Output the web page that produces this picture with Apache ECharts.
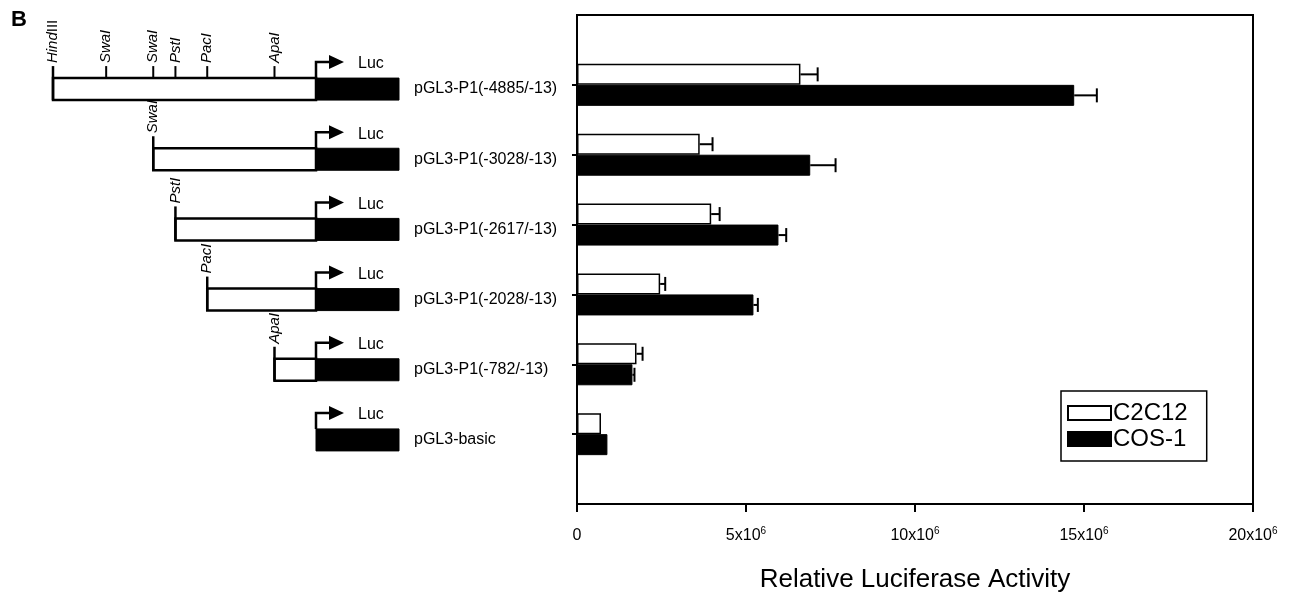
<!DOCTYPE html>
<html>
<head>
<meta charset="utf-8">
<script src="https://cdn.jsdelivr.net/npm/echarts@6/dist/echarts.min.js"></script>
<style>
  html, body {margin: 0; padding: 0; background: #fff;}
  #chart {width: 1294px; height: 596px;}
</style>
</head>
<body>
<div id="chart"></div>
<script>
// constructs (top to bottom)
const constructs = ['pGL3-P1(-4885/-13)', 'pGL3-P1(-3028/-13)', 'pGL3-P1(-2617/-13)', 'pGL3-P1(-2028/-13)', 'pGL3-P1(-782/-13)', 'pGL3-basic']
// 5' end of each promoter fragment (bp), and the site name at that end
const startBp = [-4885, -3028, -2617, -2028, -782, -13]
const startSite = ['HindIII', 'SwaI', 'PstI', 'PacI', 'ApaI', '']
// internal restriction sites drawn on the longest construct
const siteNames = ['SwaI', 'SwaI', 'PstI', 'PacI', 'ApaI']
const sitePos = [-3900, -3028, -2617, -2028, -782]
const promoterEnd = -13

// relative luciferase activity (x10^6) and error (x10^6)
const c2c12 = [6.61, 3.63, 3.97, 2.46, 1.76, 0.71]
const c2c12Err = [0.51, 0.38, 0.25, 0.15, 0.18, 0]
const cos1 = [14.71, 6.90, 5.96, 5.22, 1.64, 0.90]
const cos1Err = [0.67, 0.75, 0.23, 0.13, 0.06, 0]

const xTicks = [0, 5, 10, 15, 20]

const FONT = '"Liberation Sans", Arial, sans-serif'
const M = 1e6

const chart = echarts.init(document.getElementById('chart'))

// padded category axis: empty slot above and below the six rows
const yCats = [''].concat(constructs, [''])
const pad = arr => [null].concat(arr.map(v => v * M), [null])
const errData = (vals, errs) => vals.map((v, i) => [v * M, errs[i] * M, i + 1])

function errorBar(offset) {
    return function (params, api) {
        const v = api.value(0), e = api.value(1), c = api.value(2)
        if (!e) return
        const p0 = api.coord([v, c])
        const p1 = api.coord([v + e, c])
        const y = p0[1] + offset
        const st = {stroke: '#000', lineWidth: 2}
        return {
            type: 'group',
            children: [
                {type: 'line', shape: {x1: p0[0], y1: y, x2: p1[0], y2: y}, style: st},
                {type: 'line', shape: {x1: p1[0], y1: y - 7, x2: p1[0], y2: y + 7}, style: st}
            ]
        }
    }
}

// promoter/luciferase construct diagram
function renderConstruct(params, api) {
    const start = api.value(0), row = api.value(1)
    const ps = api.coord([start, row])
    const pe = api.coord([promoterEnd, row])
    const c = ps[1]
    const top = c - 11, bot = c + 11
    const xs = ps[0], xe = pe[0]
    const lw = 2.5
    const children = []
    if (start < promoterEnd) {
        children.push({type: 'rect', shape: {x: xs, y: top, width: xe - xs, height: bot - top},
            style: {fill: '#fff', stroke: '#000', lineWidth: lw}})
        children.push({type: 'line', shape: {x1: xs, y1: bot, x2: xs, y2: top - 12},
            style: {stroke: '#000', lineWidth: lw}})
        children.push(siteLabel(xs, top - 15, startSite[row]))
    }
    if (row === 0) {
        sitePos.forEach((p, k) => {
            const x = api.coord([p, row])[0]
            children.push({type: 'line', shape: {x1: x, y1: top, x2: x, y2: top - 12},
                style: {stroke: '#000', lineWidth: 2}})
            children.push(siteLabel(x, top - 15, siteNames[k]))
        })
    }
    children.push({type: 'rect', shape: {x: xe, y: top, width: 83, height: bot - top},
        style: {fill: '#000', stroke: '#000', lineWidth: 1}})
    const ay = top - 16
    children.push({type: 'polyline', shape: {points: [[xe, top], [xe, ay], [xe + 16, ay]]},
        style: {fill: null, stroke: '#000', lineWidth: lw}})
    children.push({type: 'polygon', shape: {points: [[xe + 13, ay - 7], [xe + 28, ay], [xe + 13, ay + 7]]},
        style: {fill: '#000'}})
    children.push({type: 'text', x: xe + 42, y: ay + 2,
        style: {text: 'Luc', fill: '#000', font: '16px ' + FONT, align: 'left', verticalAlign: 'middle'}})
    return {type: 'group', children: children}
}

function siteLabel(x, y, name) {
    const hind = name === 'HindIII'
    return {
        type: 'text', x: x, y: y, rotation: Math.PI / 2,
        style: {
            text: hind ? '{i|Hind}{n|III}' : '{i|' + name + '}',
            align: 'left', verticalAlign: 'middle', fill: '#000',
            rich: {
                i: {fontStyle: 'italic', fontSize: 15, fontFamily: FONT, fill: '#000'},
                n: {fontSize: 15, fontFamily: FONT, fill: '#000'}
            }
        }
    }
}

const option = {
    animation: false,
    backgroundColor: '#fff',
    textStyle: {fontFamily: FONT, color: '#000'},
    graphic: [{type: 'text', left: 11, top: 9, style: {text: 'B', font: 'bold 22px ' + FONT, fill: '#000'}}],
    legend: {
        left: 1061, top: 391,
        orient: 'vertical',
        data: ['C2C12', 'COS-1'],
        icon: 'rect',
        itemWidth: 43, itemHeight: 14, itemGap: 2,
        borderColor: '#000', borderWidth: 1.5,
        padding: [10, 19, 10, 6],
        textStyle: {fontSize: 24, color: '#000', fontFamily: FONT, padding: [0, 0, 0, -3]}
    },
    grid: [
        {left: 577, right: 41, top: 15, bottom: 92, show: true, borderColor: '#000', borderWidth: 2,
            containLabel: false, outerBoundsMode: 'none'},
        {left: 53, width: 263, top: 54, height: 421, containLabel: false, outerBoundsMode: 'none'}
    ],
    xAxis: [
        {
            type: 'value', gridIndex: 0, min: 0, max: 20 * M, interval: 5 * M,
            axisLine: {show: true, lineStyle: {color: '#000', width: 2}},
            axisTick: {show: true, length: 8, lineStyle: {color: '#000', width: 2}},
            splitLine: {show: false},
            axisLabel: {
                margin: 22,
                formatter: v => v === 0 ? '{n|0}{s|\u200b}' : '{n|' + (v / M) + 'x10}{s|6}',
                rich: {
                    n: {fontSize: 16, fontFamily: FONT, color: '#000'},
                    s: {fontSize: 10, fontFamily: FONT, color: '#000', verticalAlign: 'top', padding: [0, 0, 9, 0]}
                }
            },
            name: 'Relative Luciferase Activity',
            nameLocation: 'middle', nameGap: 63,
            nameTextStyle: {fontSize: 26, color: '#000', fontFamily: FONT}
        },
        {type: 'value', gridIndex: 1, min: startBp[0], max: promoterEnd, show: false}
    ],
    yAxis: [
        {
            type: 'category', gridIndex: 0, data: yCats, inverse: true, boundaryGap: false,
            axisLine: {show: true, lineStyle: {color: '#000', width: 2}},
            axisTick: {show: true, length: 5, interval: (i) => i > 0 && i < yCats.length - 1,
                lineStyle: {color: '#000', width: 2}},
            axisLabel: {show: false},
            splitLine: {show: false}
        },
        {
            type: 'category', gridIndex: 1, data: constructs, inverse: true, position: 'right',
            axisLine: {show: false}, axisTick: {show: false}, splitLine: {show: false},
            axisLabel: {margin: 98, fontSize: 16, color: '#000', fontFamily: FONT, align: 'left'}
        }
    ],
    series: [
        {
            name: 'C2C12', type: 'bar', xAxisIndex: 0, yAxisIndex: 0,
            data: pad(c2c12), barWidth: 21, barGap: '0%',
            itemStyle: {color: '#fff', borderColor: '#000', borderWidth: 1.5}
        },
        {
            name: 'COS-1', type: 'bar', xAxisIndex: 0, yAxisIndex: 0,
            data: pad(cos1), barWidth: 21, barGap: '0%',
            itemStyle: {color: '#000', borderColor: '#000', borderWidth: 1}
        },
        {
            type: 'custom', xAxisIndex: 0, yAxisIndex: 0, z: 3,
            renderItem: errorBar(-10.5), data: errData(c2c12, c2c12Err)
        },
        {
            type: 'custom', xAxisIndex: 0, yAxisIndex: 0, z: 3,
            renderItem: errorBar(10.5), data: errData(cos1, cos1Err)
        },
        {
            type: 'custom', xAxisIndex: 1, yAxisIndex: 1,
            renderItem: renderConstruct,
            data: startBp.map((s, i) => [s, i])
        }
    ]
}

chart.setOption(option)
</script>
</body>
</html>
